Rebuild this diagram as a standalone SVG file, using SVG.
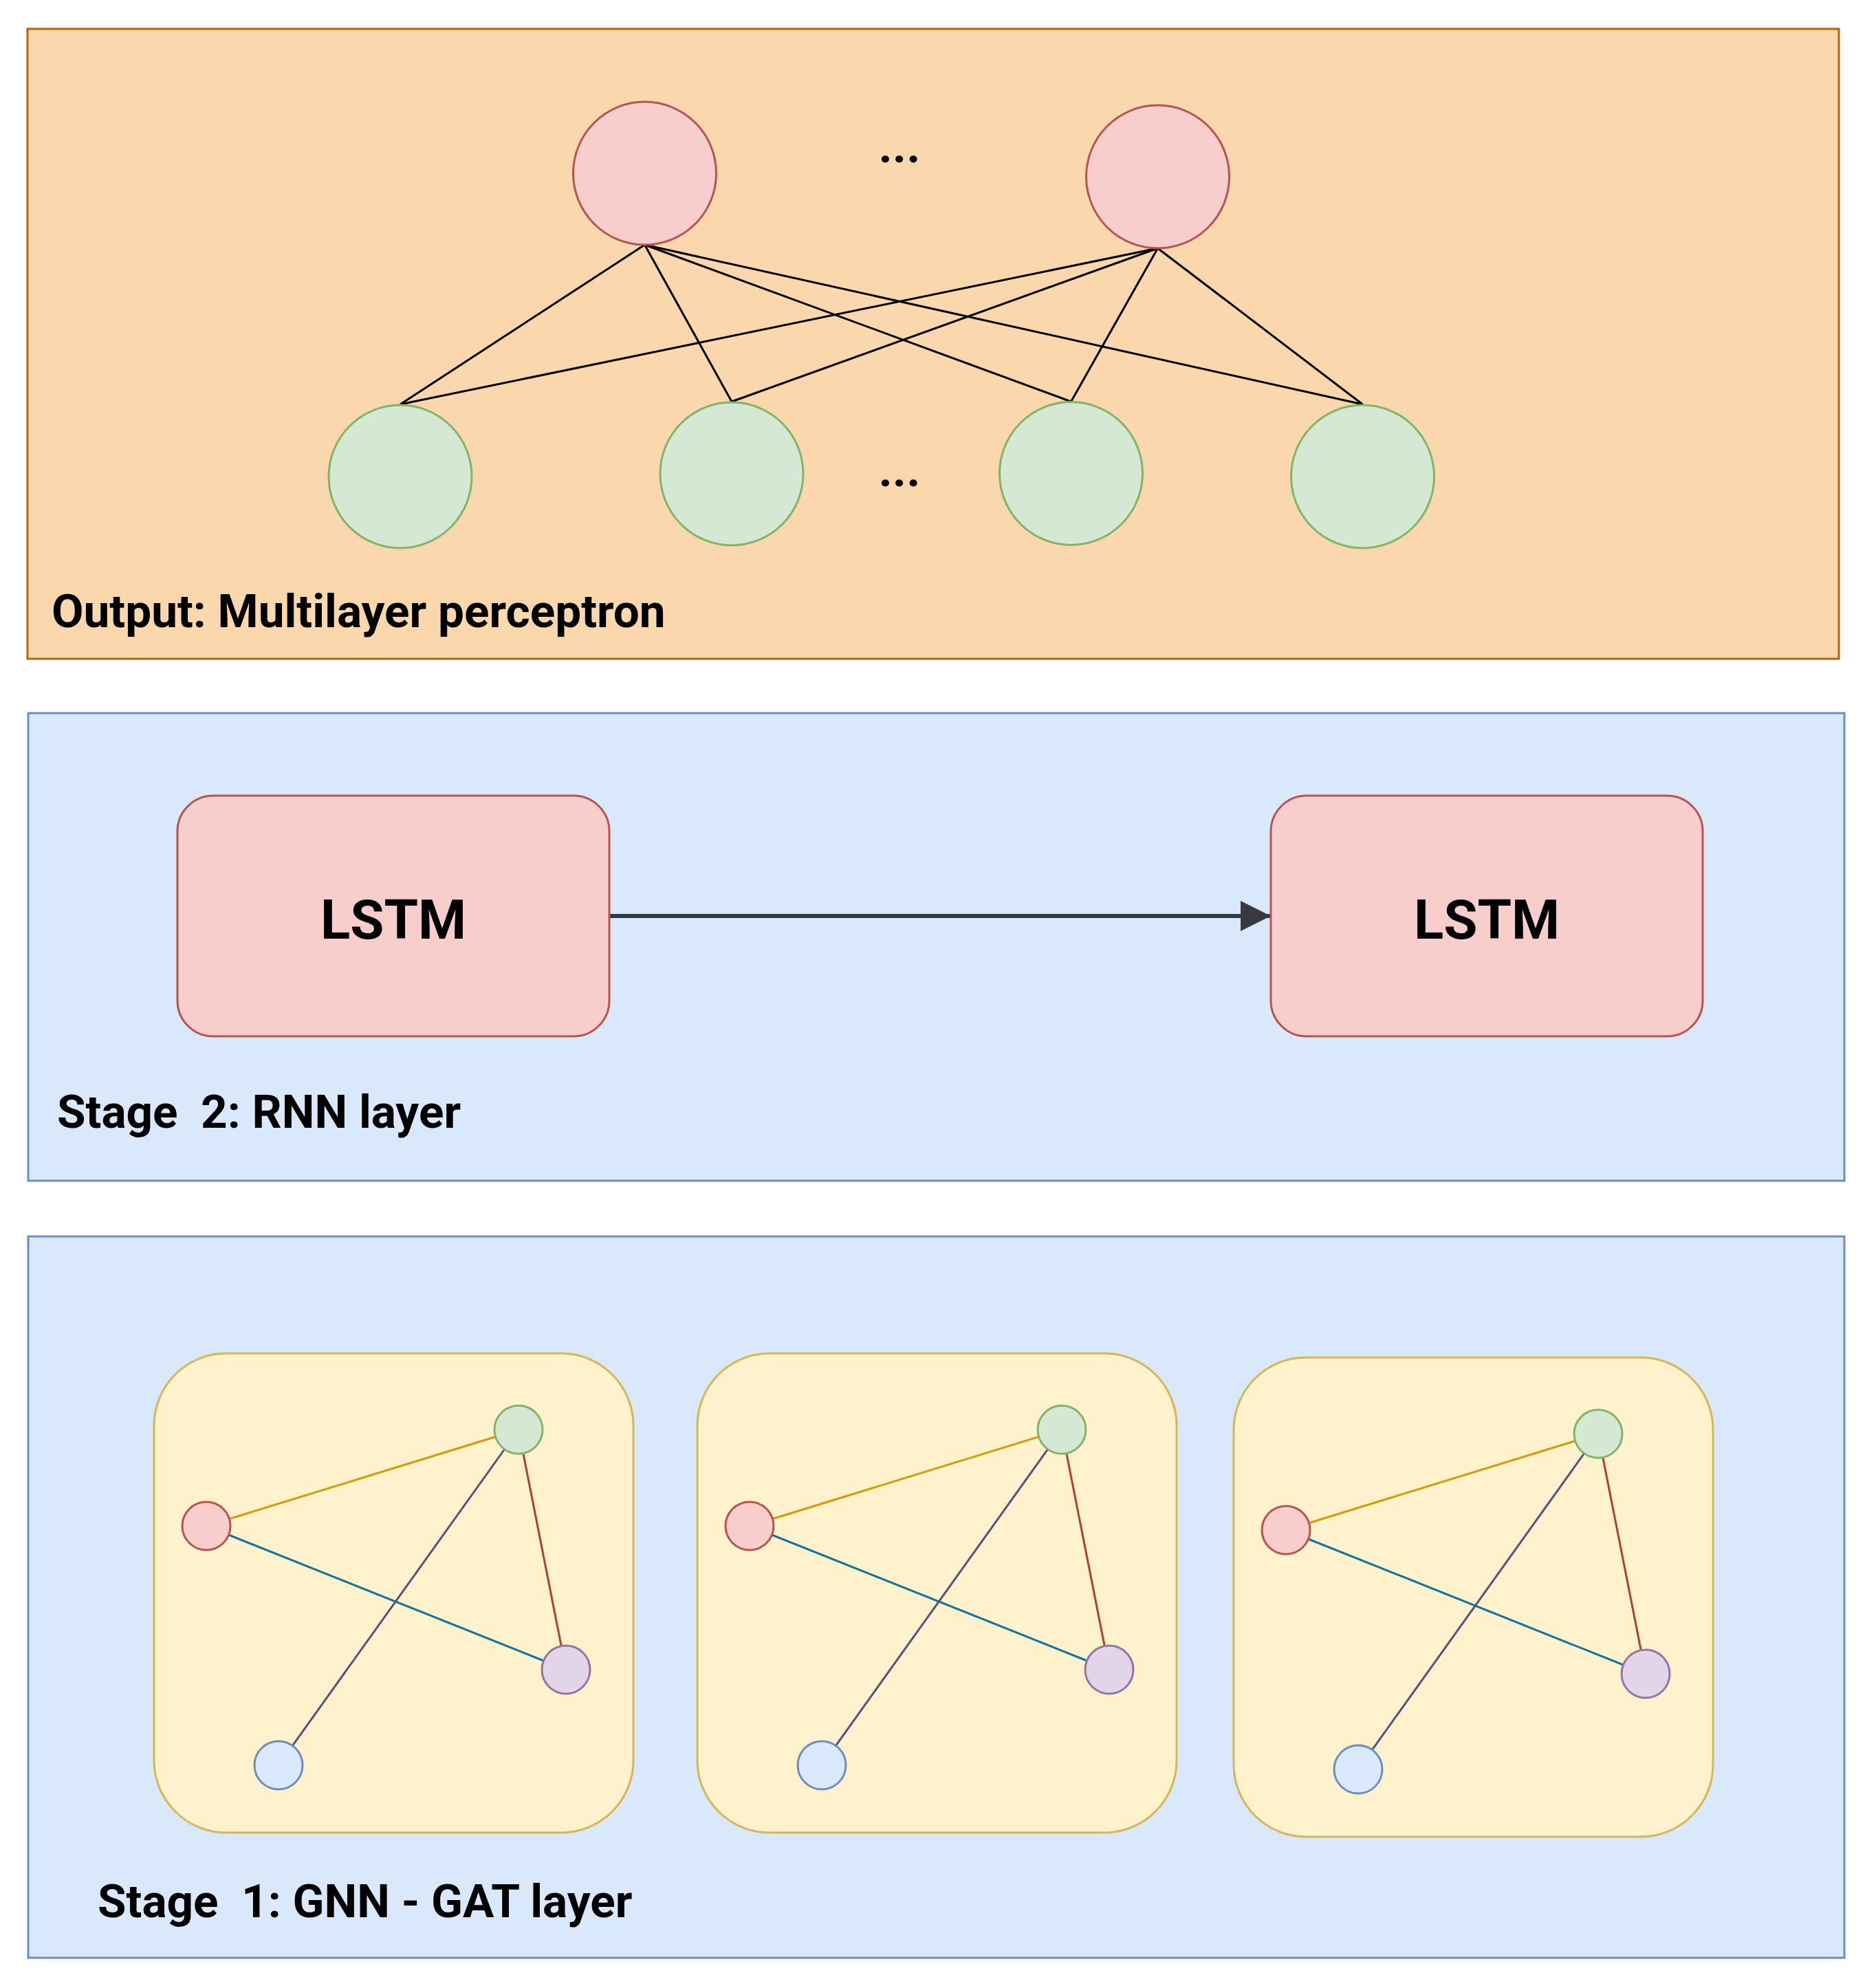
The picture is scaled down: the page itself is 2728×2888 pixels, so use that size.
<svg xmlns="http://www.w3.org/2000/svg" width="2728" height="2888" viewBox="0 0 2728 2888">
<style>
text{font-family:Roboto,"Liberation Sans",sans-serif;font-weight:bold;fill:#000;white-space:pre}
.lbl{font-size:67.5px}
.big{font-size:80px;text-anchor:middle}
.dots{font-size:70px;text-anchor:middle}
.mlp{stroke:#000;stroke-width:3;fill:none}
.rn{fill:#f8cecc;stroke:#b85450;stroke-width:3}
.gn{fill:#d5e8d4;stroke:#82b366;stroke-width:3}
.pn{fill:#e1d5e7;stroke:#9673a6;stroke-width:3}
.bn{fill:#dae8fc;stroke:#6c8ebf;stroke-width:3}
.panel{fill:#fff2cc;stroke:#d6b656;stroke-width:3}
.e1{stroke:#d79b00;stroke-width:3}
.e2{stroke:#10739e;stroke-width:3}
.e3{stroke:#ae4132;stroke-width:3}
.e4{stroke:#56517e;stroke-width:3}
</style>
<defs>
<marker id="arr" markerUnits="userSpaceOnUse" markerWidth="50" markerHeight="50" refX="44" refY="22" orient="auto">
<path d="M0,0 L44,22 L0,44 Z" fill="#36393d"/>
</marker>
<g id="graph">
<line class="e1" x1="300" y1="2219" x2="754" y2="2079"/>
<line class="e2" x1="300" y1="2219" x2="823" y2="2428"/>
<line class="e3" x1="754" y1="2079" x2="823" y2="2428"/>
<line class="e4" x1="754" y1="2079" x2="405" y2="2567"/>
<circle class="rn" cx="300" cy="2219" r="35"/>
<circle class="gn" cx="754" cy="2079" r="35"/>
<circle class="pn" cx="823" cy="2428" r="35"/>
<circle class="bn" cx="405" cy="2567" r="35"/>
</g>
</defs>

<g id="output-box">
<rect x="40" y="42" width="2634" height="916" fill="#fad7ac" stroke="#b46504" stroke-width="3"/>
<text class="lbl" x="75" y="912">Output: Multilayer perceptron</text>
</g>

<g id="stage2-box">
<rect x="41" y="1037" width="2641" height="680" fill="#dae8fc" stroke="#6c8ebf" stroke-width="3"/>
<text class="lbl" x="83" y="1640">Stage  2: RNN layer</text>
</g>

<g id="stage1-box">
<rect x="41" y="1798" width="2641" height="1049" fill="#dae8fc" stroke="#6c8ebf" stroke-width="3"/>
<text class="lbl" x="142" y="2788">Stage  1: GNN - GAT layer</text>
</g>

<g id="connectors">
<g id="mlp-edges" class="mlp">
<line x1="937.5" y1="356" x2="582" y2="588"/>
<line x1="937.5" y1="356" x2="1064" y2="584"/>
<line x1="937.5" y1="356" x2="1557.5" y2="584"/>
<line x1="937.5" y1="356" x2="1981.5" y2="588"/>
<line x1="1683.5" y1="361" x2="582" y2="588"/>
<line x1="1683.5" y1="361" x2="1064" y2="584"/>
<line x1="1683.5" y1="361" x2="1557.5" y2="584"/>
<line x1="1683.5" y1="361" x2="1981.5" y2="588"/>
</g>
<line id="lstm-arrow" x1="886" y1="1332" x2="1848" y2="1332" stroke="#36393d" stroke-width="6" marker-end="url(#arr)"/>
</g>

<g id="out1"><circle class="rn" cx="937.5" cy="252" r="104"/></g>
<g id="out2"><circle class="rn" cx="1683.5" cy="257" r="104"/></g>
<g id="dots-top"><text class="dots" x="1308" y="236">...</text></g>
<g id="in1"><circle class="gn" cx="582" cy="693" r="104"/></g>
<g id="in2"><circle class="gn" cx="1064" cy="689" r="104"/></g>
<g id="dots-bottom"><text class="dots" x="1308" y="707">...</text></g>
<g id="in3"><circle class="gn" cx="1557.5" cy="688.5" r="104"/></g>
<g id="in4"><circle class="gn" cx="1981.5" cy="693" r="104"/></g>

<g id="lstm1">
<rect class="rn" x="258" y="1157" width="628" height="350" rx="52" ry="52"/>
<text class="big" x="572" y="1365">LSTM</text>
</g>
<g id="lstm2">
<rect class="rn" x="1848" y="1157" width="628" height="350" rx="52" ry="52"/>
<text class="big" x="2162" y="1365">LSTM</text>
</g>

<g id="gat1">
<rect class="panel" x="224" y="1968" width="697" height="697" rx="105" ry="105"/>
<use href="#graph"/>
</g>
<g id="gat2">
<rect class="panel" x="1014" y="1968" width="697" height="697" rx="105" ry="105"/>
<use href="#graph" x="790"/>
</g>
<g id="gat3">
<rect class="panel" x="1794" y="1974" width="697" height="697" rx="105" ry="105"/>
<use href="#graph" x="1570" y="6"/>
</g>
</svg>
